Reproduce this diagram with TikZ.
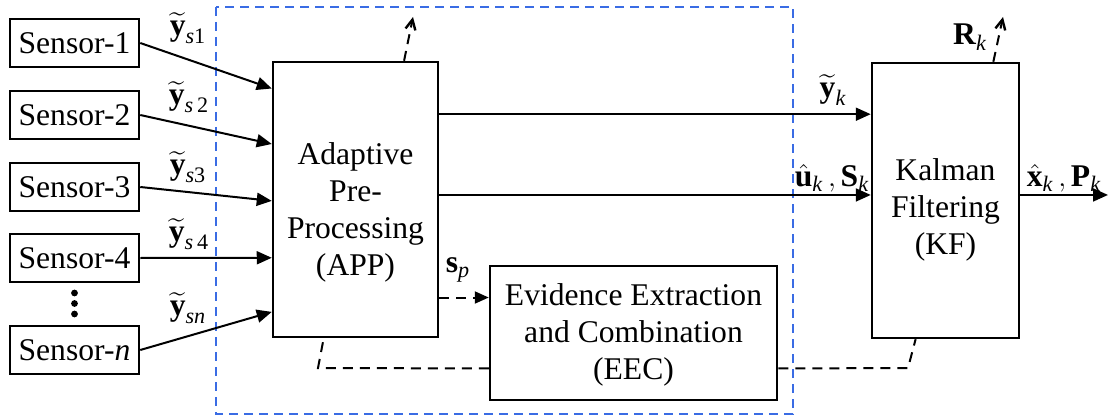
\documentclass[tikz,border=0pt]{standalone}
\usepackage{amsmath}
\usepackage{fontspec}
\setmainfont{Liberation Serif}
\usetikzlibrary{arrows.meta,calc}
\definecolor{grpblue}{RGB}{58,108,228}
\newcommand\ysub[1]{$\widetilde{\textbf{y}}_{#1}$}
\begin{document}
\begin{tikzpicture}[x=0.5pt,y=-0.5pt,
  font=\fontsize{15.8}{18.5}\selectfont,
  blockbox/.style={draw,line width=1.25pt,inner sep=0pt,align=center},
  sensorbox/.style={blockbox,minimum width=64.5pt,minimum height=24pt},
  flow/.style={line width=1pt,-{Triangle[length=7.5pt,width=6.5pt]}},
  dflow/.style={line width=1pt,dash pattern=on 5pt off 3.5pt,-{Triangle[length=7pt,width=6pt]}},
  dline/.style={line width=1pt,dash pattern=on 5pt off 3.5pt},
  dup/.style={line width=1pt,dash pattern=on 5pt off 3.5pt,-{Straight Barb[length=5pt,width=5pt,line width=1.2pt]}},
  lab/.style={inner sep=0pt},
  txt/.style={align=center,inner sep=0pt}]
\useasboundingbox (0,0) rectangle (1108,417);

% group frame
\draw[grpblue,line width=1pt,dash pattern=on 4.5pt off 3pt] (216,7) rectangle (793,414);

% sensors
\node[sensorbox] (s1) at (74.5,43) {Sensor-1};
\node[sensorbox] (s2) at (74.5,115) {Sensor-2};
\node[sensorbox] (s3) at (74.5,187) {Sensor-3};
\node[sensorbox] (s4) at (74.5,258) {Sensor-4};
\node[sensorbox] (sn) at (74.5,350) {Sensor-\textit{n}};
\fill (74.5,293) circle (1.7pt) (74.5,303.5) circle (1.7pt) (74.5,314) circle (1.7pt);

% blocks
\node[blockbox,minimum width=82.5pt,minimum height=137.5pt] (app) at (355.5,199.5) {};
\node[txt] (apptxt) at (355.5,212) {Adaptive\\Pre-\\Processing\\(APP)};
\node[blockbox,minimum width=143.5pt,minimum height=67pt] (eec) at (633.5,333) {};
\node[txt] (eectxt) at (633.5,335) {Evidence Extraction\\and Combination\\(EEC)};
\node[blockbox,minimum width=73.5pt,minimum height=137.5pt] (kf) at (945.5,200.5) {};
\node[txt] (kftxt) at (945.5,210) {Kalman\\Filtering\\(KF)};

% sensor inputs
\draw[flow] (s1.east) -- ($(app.north west)!0.1!(app.south west)$);
\draw[flow] (s2.east) -- ($(app.north west)!0.3!(app.south west)$);
\draw[flow] (s3.east) -- ($(app.north west)!0.505!(app.south west)$);
\draw[flow] (s4.east) -- ($(app.north west)!0.71!(app.south west)$);
\draw[flow] (sn.east) -- ($(app.north west)!0.905!(app.south west)$);

\node[lab] (l1) at (188,28) {\ysub{\textit{s}\text{1}}};
\node[lab] (l2) at (189,97) {\ysub{\textit{s}\,\text{2}}};
\node[lab] (l3) at (188,167) {\ysub{\textit{s}\text{3}}};
\node[lab] (l4) at (189,234) {\ysub{\textit{s}\,\text{4}}};
\node[lab] (l5) at (188,308) {\ysub{\textit{sn}}};

% APP -> KF
\coordinate (kfa) at ($(kf.north west)!0.189!(kf.south west)$);
\coordinate (kfb) at ($(kf.north west)!0.48!(kf.south west)$);
\draw[flow] (app.east |- kfa) -- (kfa);
\draw[flow] (app.east |- kfb) -- (kfb);
\node[lab] (lyk) at (833,90) {\ysub{\textit{k}}};
\node[lab] (luk) at (832,178) {$\hat{\textbf{u}}_{\textit{k}}\,,\textbf{S}_{\textit{k}}$};

% KF output
\coordinate (out) at (1108,0);
\draw[flow] (kf.east |- kfb) -- (out |- kfb);
\node[lab] (lxk) at (1064,178) {$\hat{\textbf{x}}_{\textit{k}}\,,\textbf{P}_{\textit{k}}$};

% s_p
\coordinate (spend) at ($(eec.north west)!0.24!(eec.south west)$);
\draw[dflow] (app.east |- spend) -- (spend);
\node[lab] (lsp) at (458,270) {$\textbf{s}_{\textit{p}}$};

% feedback dashed lines
\coordinate (c1) at (318,368);
\coordinate (c2) at (908,368);
\draw[dline] ($(eec.north west)!0.76!(eec.south west)$) -- (c1) -- ($(app.south west)!0.31!(app.south east)$);
\draw[dline] ($(eec.north east)!0.76!(eec.south east)$) -- (c2) -- ($(kf.south west)!0.30!(kf.south east)$);

% upward dashed arrows
\coordinate (u1) at (413,17);
\coordinate (u2) at (1003,17);
\draw[dup] ($(app.north west)!0.79!(app.north east)$) -- (u1);
\draw[dup] ($(kf.north west)!0.82!(kf.north east)$) -- (u2);
\node[lab] (lrk) at (970,37) {$\textbf{R}_{\textit{k}}$};
\end{tikzpicture}
\end{document}
